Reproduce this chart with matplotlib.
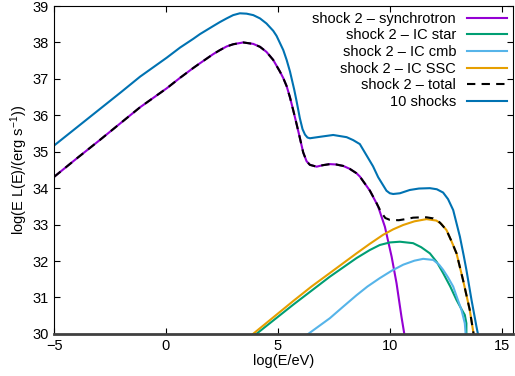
import numpy as np
import matplotlib
matplotlib.use("Agg")
import matplotlib.pyplot as plt

plt.rcParams['font.family'] = ['Liberation Sans', 'DejaVu Sans']
plt.rcParams['mathtext.fontset'] = 'custom'
plt.rcParams['mathtext.rm'] = 'Liberation Sans'
plt.rcParams['mathtext.it'] = 'Liberation Sans:italic'

# valores: log(E/eV) y log(E L(E))
x_sync = [-5, -4, -3, -2, -1.16, 0.03, 0.63, 1.22, 1.52, 2.11, 2.41, 2.71, 3.0, 3.45, 3.9,
          4.2, 4.49, 4.79, 5.09, 5.24, 5.39, 5.54, 5.7, 5.85, 5.98, 6.13, 6.28, 6.43, 6.73,
          7.0, 7.32, 7.6, 7.92, 8.21, 8.51, 8.66, 8.96, 9.11, 9.4, 9.48, 9.78, 10.08, 10.30,
          10.52, 10.70]
y_sync = [34.31, 34.81, 35.30, 35.80, 36.22, 36.74, 37.03, 37.30, 37.43, 37.68, 37.79, 37.89,
          37.95, 38.00, 37.96, 37.88, 37.74, 37.52, 37.20, 37.02, 36.80, 36.49, 36.10, 35.72,
          35.38, 34.98, 34.74, 34.64, 34.59, 34.63, 34.66, 34.65, 34.61, 34.53, 34.41, 34.32,
          34.06, 33.93, 33.59, 33.49, 32.94, 32.12, 31.39, 30.47, 29.80]

x_star = [3.9, 4.08, 5.68, 7.32, 8.51, 9.1, 9.55, 10.0, 10.45, 11.04, 11.4, 11.79, 12.1,
          12.38, 12.7, 12.98, 13.2, 13.35, 13.42, 13.42]
y_star = [29.95, 30.02, 30.80, 31.57, 32.08, 32.30, 32.44, 32.51, 32.53, 32.49, 32.38, 32.21,
          31.97, 31.67, 31.30, 30.93, 30.68, 30.52, 30.29, 29.8]

x_cmb = [6.3, 6.40, 7.32, 7.92, 8.51, 9.0, 9.55, 10.1, 10.60, 11.1, 11.49, 11.94, 12.2,
         12.38, 12.6, 12.83, 13.0, 13.20, 13.35, 13.39, 13.42]
y_cmb = [29.97, 30.02, 30.43, 30.75, 31.06, 31.30, 31.53, 31.74, 31.90, 32.01, 32.06, 32.03,
         31.90, 31.76, 31.55, 31.30, 31.00, 30.66, 30.29, 29.97, 29.7]

x_ssc = [3.8, 3.93, 5.68, 6.5, 7.32, 8.51, 9.1, 9.70, 10.15, 10.60, 11.1, 11.64, 12.08, 12.3,
         12.53, 12.75, 12.98, 13.27, 13.57, 13.75, 13.8]
y_ssc = [29.95, 30.02, 30.90, 31.30, 31.67, 32.21, 32.47, 32.72, 32.87, 32.99, 33.09, 33.15,
         33.11, 33.02, 32.85, 32.55, 32.21, 31.48, 30.66, 29.97, 29.7]

x_total = [-5, -4, -3, -2, -1.16, 0.03, 0.63, 1.22, 1.52, 2.11, 2.41, 2.71, 3.0, 3.45, 3.9,
           4.2, 4.49, 4.79, 5.09, 5.24, 5.39, 5.54, 5.7, 5.85, 5.98, 6.13, 6.28, 6.43, 6.73,
           7.0, 7.32, 7.6, 7.92, 8.21, 8.51, 8.66, 8.96, 9.11, 9.4, 9.48, 9.62, 9.8, 10.0,
           10.4, 10.8, 11.04, 11.4, 11.64, 11.94, 12.08, 12.23, 12.53, 12.75, 12.98, 13.27,
           13.57, 13.75, 13.8]
y_total = [34.31, 34.81, 35.30, 35.80, 36.22, 36.74, 37.03, 37.30, 37.43, 37.68, 37.79, 37.89,
           37.95, 38.00, 37.96, 37.88, 37.74, 37.52, 37.20, 37.02, 36.80, 36.49, 36.10, 35.72,
           35.38, 34.98, 34.74, 34.64, 34.59, 34.63, 34.66, 34.65, 34.61, 34.53, 34.41, 34.32,
           34.06, 33.93, 33.60, 33.50, 33.33, 33.18, 33.13, 33.12, 33.16, 33.19, 33.20, 33.20,
           33.17, 33.12, 33.06, 32.85, 32.55, 32.21, 31.48, 30.66, 29.97, 29.7]

x_10 = [-5, -4, -3, -2, -1.16, 0.03, 0.63, 1.22, 1.52, 2.11, 2.41, 2.71, 3.0, 3.3, 3.6, 3.9,
        4.2, 4.49, 4.79, 4.94, 5.24, 5.39, 5.54, 5.73, 5.83, 5.98, 6.1, 6.21, 6.32, 6.43,
        6.88, 7.47, 8.07, 8.36, 8.66, 8.96, 9.25, 9.48, 9.70, 9.85, 10.0, 10.15, 10.45,
        10.89, 11.3, 11.79, 12.1, 12.38, 12.6, 12.83, 13.13, 13.3, 13.42, 13.65, 13.87, 14.0]
y_10 = [35.17, 35.66, 36.15, 36.64, 37.06, 37.58, 37.86, 38.10, 38.23, 38.45, 38.56, 38.66,
        38.75, 38.80, 38.79, 38.75, 38.66, 38.52, 38.32, 38.18, 37.79, 37.52, 37.20, 36.70,
        36.40, 35.92, 35.62, 35.47, 35.39, 35.37, 35.41, 35.46, 35.40, 35.32, 35.21, 34.90,
        34.60, 34.30, 34.08, 33.93, 33.86, 33.84, 33.86, 33.95, 33.99, 34.00, 33.97, 33.88,
        33.70, 33.40, 32.67, 32.15, 31.76, 30.93, 30.20, 29.8]


def main():
    fig = plt.figure(figsize=(5.15, 3.76), dpi=100)
    ax = fig.add_axes([0.105, 0.112, 0.891, 0.872])

    lw = 1.5
    estilo = dict(lw=lw, solid_joinstyle='round', dash_joinstyle='round')
    ax.plot(x_sync, y_sync, color='#9400D3', label='shock 2 – synchrotron', **estilo)
    ax.plot(x_star, y_star, color='#009E73', label='shock 2 – IC star', **estilo)
    ax.plot(x_cmb, y_cmb, color='#56B4E9', label='shock 2 – IC cmb', **estilo)
    ax.plot(x_ssc, y_ssc, color='#E69F00', label='shock 2 – IC SSC', **estilo)
    ax.plot(x_total, y_total, color='black', dashes=(4, 3), label='shock 2 – total', **estilo)
    ax.plot(x_10, y_10, color='#0072B2', label='10 shocks', **estilo)

    ax.set_xlim(-5, 15.5)
    ax.set_ylim(30, 39)
    ax.set_xticks([-5, 0, 5, 10, 15])
    ax.set_yticks(range(30, 40))
    ax.tick_params(direction='in', top=True, right=True, labelsize=10.5, length=4, width=0.8)
    ax.set_xlabel('log(E/eV)', fontsize=10.5, labelpad=1)
    ax.set_ylabel('log(E L(E)/(erg s$^{\u22121}$))', fontsize=10.5, labelpad=2)

    for s in ax.spines.values():
        s.set_linewidth(0.8)
    ax.spines['bottom'].set_linewidth(2)
    ax.spines['bottom'].set_color('#404040')

    ax.legend(loc='upper right', frameon=False, markerfirst=False, fontsize=10.5,
              handlelength=2.75, labelspacing=0.18, borderaxespad=0.1, handletextpad=0.75,
              borderpad=0.3)

    fig.savefig('out.png', dpi=100)


if __name__ == '__main__':
    main()
